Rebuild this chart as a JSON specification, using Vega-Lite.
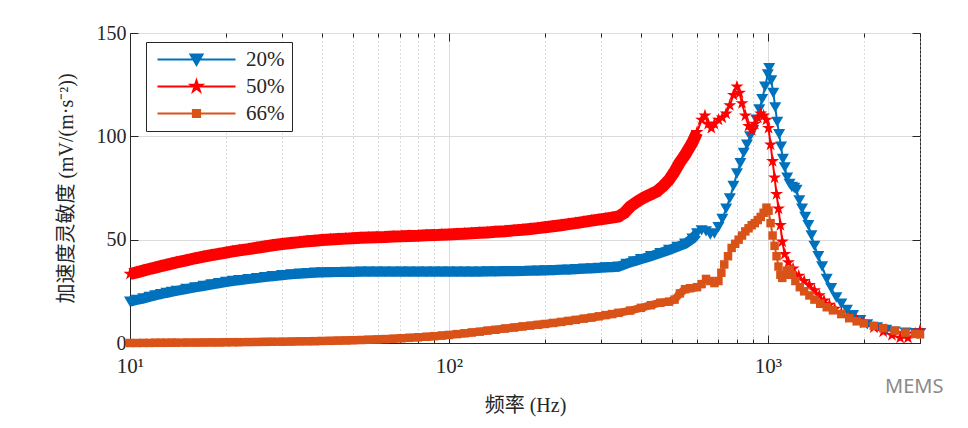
{
  "$schema": "https://vega.github.io/schema/vega-lite/v6.json",
  "width": 790,
  "height": 310,
  "autosize": "none",
  "padding": {"left": 130, "top": 33, "right": 48, "bottom": 85},
  "background": "white",
  "title": {
    "text": "MEMS",
    "orient": "bottom",
    "anchor": "end",
    "font": "Noto Sans",
    "fontSize": 20,
    "fontWeight": "normal",
    "color": "#8a8a8a",
    "offset": -38,
    "dx": 17
  },
  "data": {
    "values": [
      {"s":"20%","f":10,"v":20},{"s":"20%","f":10.5,"v":20.8},{"s":"20%","f":11,"v":21.5},{"s":"20%","f":11.5,"v":22.3},{"s":"20%","f":12,"v":23},
      {"s":"20%","f":12.5,"v":23.6},{"s":"20%","f":13,"v":24.2},{"s":"20%","f":13.5,"v":24.7},{"s":"20%","f":14,"v":25.2},{"s":"20%","f":15,"v":26.1},
      {"s":"20%","f":16,"v":26.9},{"s":"20%","f":17,"v":27.6},{"s":"20%","f":18,"v":28.3},{"s":"20%","f":19,"v":28.9},{"s":"20%","f":20,"v":29.5},
      {"s":"20%","f":21,"v":30},{"s":"20%","f":22,"v":30.4},{"s":"20%","f":23.5,"v":30.9},{"s":"20%","f":25,"v":31.4},{"s":"20%","f":26.5,"v":31.9},
      {"s":"20%","f":28,"v":32.3},{"s":"20%","f":30,"v":32.8},{"s":"20%","f":32,"v":33.2},{"s":"20%","f":34,"v":33.5},{"s":"20%","f":36,"v":33.8},
      {"s":"20%","f":38,"v":34},{"s":"20%","f":40,"v":34.1},{"s":"20%","f":42.5,"v":34.2},{"s":"20%","f":45,"v":34.3},{"s":"20%","f":47.5,"v":34.4},
      {"s":"20%","f":50,"v":34.4},{"s":"20%","f":53,"v":34.5},{"s":"20%","f":56,"v":34.5},{"s":"20%","f":59.5,"v":34.5},{"s":"20%","f":63,"v":34.5},
      {"s":"20%","f":67,"v":34.5},{"s":"20%","f":71,"v":34.5},{"s":"20%","f":75,"v":34.5},{"s":"20%","f":80,"v":34.5},{"s":"20%","f":85,"v":34.5},
      {"s":"20%","f":90,"v":34.5},{"s":"20%","f":95,"v":34.5},{"s":"20%","f":100,"v":34.5},{"s":"20%","f":106,"v":34.5},{"s":"20%","f":112,"v":34.5},
      {"s":"20%","f":118,"v":34.5},{"s":"20%","f":125,"v":34.5},{"s":"20%","f":132,"v":34.6},{"s":"20%","f":140,"v":34.6},{"s":"20%","f":150,"v":34.7},
      {"s":"20%","f":160,"v":34.7},{"s":"20%","f":170,"v":34.8},{"s":"20%","f":180,"v":34.9},{"s":"20%","f":190,"v":35},{"s":"20%","f":200,"v":35.1},
      {"s":"20%","f":212,"v":35.2},{"s":"20%","f":225,"v":35.4},{"s":"20%","f":237,"v":35.5},{"s":"20%","f":250,"v":35.7},{"s":"20%","f":265,"v":35.9},
      {"s":"20%","f":280,"v":36.1},{"s":"20%","f":295,"v":36.3},{"s":"20%","f":310,"v":36.5},{"s":"20%","f":325,"v":36.7},{"s":"20%","f":340,"v":36.9},
      {"s":"20%","f":360,"v":38.3},{"s":"20%","f":380,"v":39.5},{"s":"20%","f":400,"v":40.5},{"s":"20%","f":430,"v":42},{"s":"20%","f":460,"v":43.5},
      {"s":"20%","f":490,"v":45},{"s":"20%","f":520,"v":46.5},{"s":"20%","f":550,"v":48},{"s":"20%","f":580,"v":50.5},{"s":"20%","f":600,"v":53},
      {"s":"20%","f":620,"v":54.5},{"s":"20%","f":640,"v":54},{"s":"20%","f":660,"v":52.5},{"s":"20%","f":680,"v":53},{"s":"20%","f":700,"v":56},
      {"s":"20%","f":720,"v":60},{"s":"20%","f":740,"v":65},{"s":"20%","f":760,"v":70},{"s":"20%","f":780,"v":76},{"s":"20%","f":800,"v":82},
      {"s":"20%","f":820,"v":87},{"s":"20%","f":840,"v":92},{"s":"20%","f":860,"v":96},{"s":"20%","f":880,"v":100},{"s":"20%","f":900,"v":103},
      {"s":"20%","f":920,"v":108},{"s":"20%","f":940,"v":113},{"s":"20%","f":960,"v":118},{"s":"20%","f":980,"v":124},{"s":"20%","f":1000,"v":130},
      {"s":"20%","f":1010,"v":133},{"s":"20%","f":1025,"v":127},{"s":"20%","f":1040,"v":121},{"s":"20%","f":1055,"v":114},{"s":"20%","f":1070,"v":107},
      {"s":"20%","f":1085,"v":101},{"s":"20%","f":1100,"v":95},{"s":"20%","f":1115,"v":89},{"s":"20%","f":1130,"v":85},{"s":"20%","f":1150,"v":80},
      {"s":"20%","f":1170,"v":77},{"s":"20%","f":1190,"v":75.5},{"s":"20%","f":1210,"v":75},{"s":"20%","f":1230,"v":74},{"s":"20%","f":1255,"v":69},
      {"s":"20%","f":1280,"v":65},{"s":"20%","f":1310,"v":61},{"s":"20%","f":1340,"v":57},{"s":"20%","f":1370,"v":52},{"s":"20%","f":1400,"v":47},
      {"s":"20%","f":1440,"v":42},{"s":"20%","f":1480,"v":37},{"s":"20%","f":1530,"v":31},{"s":"20%","f":1580,"v":26.5},{"s":"20%","f":1640,"v":22},
      {"s":"20%","f":1700,"v":19},{"s":"20%","f":1770,"v":16},{"s":"20%","f":1850,"v":13.5},{"s":"20%","f":1950,"v":11},{"s":"20%","f":2050,"v":9},
      {"s":"20%","f":2200,"v":7.5},{"s":"20%","f":2350,"v":6.3},{"s":"20%","f":2500,"v":5.5},{"s":"20%","f":2700,"v":5},{"s":"20%","f":2900,"v":4.8},
      {"s":"20%","f":3000,"v":4.8},

      {"s":"50%","f":10,"v":33.4},{"s":"50%","f":10.5,"v":34.2},{"s":"50%","f":11,"v":35},{"s":"50%","f":11.5,"v":35.8},{"s":"50%","f":12,"v":36.5},
      {"s":"50%","f":12.5,"v":37.2},{"s":"50%","f":13,"v":37.8},{"s":"50%","f":13.5,"v":38.4},{"s":"50%","f":14,"v":39},{"s":"50%","f":15,"v":40},
      {"s":"50%","f":16,"v":41},{"s":"50%","f":17,"v":41.8},{"s":"50%","f":18,"v":42.5},{"s":"50%","f":19,"v":43.1},{"s":"50%","f":20,"v":43.7},
      {"s":"50%","f":21,"v":44.3},{"s":"50%","f":22,"v":44.8},{"s":"50%","f":23.5,"v":45.4},{"s":"50%","f":25,"v":46.1},{"s":"50%","f":26.5,"v":46.7},
      {"s":"50%","f":28,"v":47.3},{"s":"50%","f":30,"v":47.9},{"s":"50%","f":32,"v":48.4},{"s":"50%","f":34,"v":48.8},{"s":"50%","f":36,"v":49.2},
      {"s":"50%","f":38,"v":49.5},{"s":"50%","f":40,"v":49.8},{"s":"50%","f":42.5,"v":50.1},{"s":"50%","f":45,"v":50.3},{"s":"50%","f":47.5,"v":50.5},
      {"s":"50%","f":50,"v":50.7},{"s":"50%","f":53,"v":50.9},{"s":"50%","f":56,"v":51},{"s":"50%","f":59.5,"v":51.2},{"s":"50%","f":63,"v":51.3},
      {"s":"50%","f":67,"v":51.5},{"s":"50%","f":71,"v":51.6},{"s":"50%","f":75,"v":51.8},{"s":"50%","f":80,"v":51.9},{"s":"50%","f":85,"v":52.1},
      {"s":"50%","f":90,"v":52.2},{"s":"50%","f":95,"v":52.4},{"s":"50%","f":100,"v":52.5},{"s":"50%","f":106,"v":52.7},{"s":"50%","f":112,"v":52.9},
      {"s":"50%","f":118,"v":53.1},{"s":"50%","f":125,"v":53.3},{"s":"50%","f":132,"v":53.5},{"s":"50%","f":140,"v":53.8},{"s":"50%","f":150,"v":54.1},
      {"s":"50%","f":160,"v":54.5},{"s":"50%","f":170,"v":54.8},{"s":"50%","f":180,"v":55.2},{"s":"50%","f":190,"v":55.6},{"s":"50%","f":200,"v":56},
      {"s":"50%","f":212,"v":56.5},{"s":"50%","f":225,"v":57},{"s":"50%","f":237,"v":57.5},{"s":"50%","f":250,"v":58},{"s":"50%","f":265,"v":58.6},
      {"s":"50%","f":280,"v":59.2},{"s":"50%","f":295,"v":59.7},{"s":"50%","f":310,"v":60.2},{"s":"50%","f":325,"v":60.7},{"s":"50%","f":340,"v":61.2},
      {"s":"50%","f":355,"v":63},{"s":"50%","f":370,"v":66},{"s":"50%","f":390,"v":68.5},{"s":"50%","f":410,"v":70.5},{"s":"50%","f":430,"v":72},
      {"s":"50%","f":450,"v":73.5},{"s":"50%","f":470,"v":76},{"s":"50%","f":490,"v":79},{"s":"50%","f":510,"v":83},{"s":"50%","f":530,"v":87.5},
      {"s":"50%","f":550,"v":91},{"s":"50%","f":580,"v":97},{"s":"50%","f":600,"v":102},{"s":"50%","f":620,"v":108},{"s":"50%","f":635,"v":110},
      {"s":"50%","f":650,"v":106},{"s":"50%","f":665,"v":104},{"s":"50%","f":680,"v":106},{"s":"50%","f":700,"v":108},{"s":"50%","f":720,"v":109},
      {"s":"50%","f":740,"v":111},{"s":"50%","f":760,"v":115},{"s":"50%","f":780,"v":120},{"s":"50%","f":800,"v":124},{"s":"50%","f":815,"v":121},
      {"s":"50%","f":830,"v":116},{"s":"50%","f":850,"v":110},{"s":"50%","f":870,"v":105},{"s":"50%","f":890,"v":103},{"s":"50%","f":910,"v":106},
      {"s":"50%","f":930,"v":109},{"s":"50%","f":950,"v":111},{"s":"50%","f":970,"v":110},{"s":"50%","f":990,"v":108},{"s":"50%","f":1005,"v":104},
      {"s":"50%","f":1020,"v":96},{"s":"50%","f":1035,"v":88},{"s":"50%","f":1050,"v":80},{"s":"50%","f":1065,"v":72},{"s":"50%","f":1080,"v":65},
      {"s":"50%","f":1095,"v":57},{"s":"50%","f":1110,"v":49},{"s":"50%","f":1130,"v":43},{"s":"50%","f":1160,"v":39},{"s":"50%","f":1200,"v":36},
      {"s":"50%","f":1250,"v":32.5},{"s":"50%","f":1300,"v":30},{"s":"50%","f":1350,"v":28},{"s":"50%","f":1400,"v":25.5},{"s":"50%","f":1450,"v":23},
      {"s":"50%","f":1500,"v":20.5},{"s":"50%","f":1560,"v":18.5},{"s":"50%","f":1620,"v":16.5},{"s":"50%","f":1700,"v":14.5},{"s":"50%","f":1800,"v":12.5},
      {"s":"50%","f":1900,"v":11},{"s":"50%","f":2000,"v":9.8},{"s":"50%","f":2150,"v":7.5},{"s":"50%","f":2300,"v":5.5},{"s":"50%","f":2450,"v":3.8},
      {"s":"50%","f":2600,"v":2.5},{"s":"50%","f":2750,"v":2.5},{"s":"50%","f":2900,"v":4.5},{"s":"50%","f":3000,"v":6},

      {"s":"66%","f":10,"v":0},{"s":"66%","f":10.5,"v":0},{"s":"66%","f":11,"v":0.05},{"s":"66%","f":11.5,"v":0.05},{"s":"66%","f":12,"v":0.1},
      {"s":"66%","f":12.5,"v":0.1},{"s":"66%","f":13,"v":0.1},{"s":"66%","f":13.5,"v":0.15},{"s":"66%","f":14,"v":0.15},{"s":"66%","f":15,"v":0.2},
      {"s":"66%","f":16,"v":0.2},{"s":"66%","f":17,"v":0.25},{"s":"66%","f":18,"v":0.3},{"s":"66%","f":19,"v":0.3},{"s":"66%","f":20,"v":0.35},
      {"s":"66%","f":21,"v":0.4},{"s":"66%","f":22,"v":0.4},{"s":"66%","f":23.5,"v":0.45},{"s":"66%","f":25,"v":0.5},{"s":"66%","f":26.5,"v":0.55},
      {"s":"66%","f":28,"v":0.6},{"s":"66%","f":30,"v":0.65},{"s":"66%","f":32,"v":0.7},{"s":"66%","f":34,"v":0.8},{"s":"66%","f":36,"v":0.85},
      {"s":"66%","f":38,"v":0.9},{"s":"66%","f":40,"v":1},{"s":"66%","f":42.5,"v":1.05},{"s":"66%","f":45,"v":1.15},{"s":"66%","f":47.5,"v":1.25},
      {"s":"66%","f":50,"v":1.35},{"s":"66%","f":53,"v":1.45},{"s":"66%","f":56,"v":1.6},{"s":"66%","f":59.5,"v":1.75},{"s":"66%","f":63,"v":1.9},
      {"s":"66%","f":67,"v":2.1},{"s":"66%","f":71,"v":2.3},{"s":"66%","f":75,"v":2.5},{"s":"66%","f":80,"v":2.75},{"s":"66%","f":85,"v":3},
      {"s":"66%","f":90,"v":3.3},{"s":"66%","f":95,"v":3.6},{"s":"66%","f":100,"v":3.9},{"s":"66%","f":106,"v":4.3},{"s":"66%","f":112,"v":4.7},
      {"s":"66%","f":118,"v":5.1},{"s":"66%","f":125,"v":5.5},{"s":"66%","f":132,"v":6},{"s":"66%","f":140,"v":6.4},{"s":"66%","f":150,"v":7},
      {"s":"66%","f":160,"v":7.5},{"s":"66%","f":170,"v":8},{"s":"66%","f":180,"v":8.4},{"s":"66%","f":190,"v":8.8},{"s":"66%","f":200,"v":9.2},
      {"s":"66%","f":212,"v":9.7},{"s":"66%","f":225,"v":10.2},{"s":"66%","f":237,"v":10.7},{"s":"66%","f":250,"v":11.2},{"s":"66%","f":265,"v":11.8},
      {"s":"66%","f":280,"v":12.3},{"s":"66%","f":295,"v":12.9},{"s":"66%","f":310,"v":13.5},{"s":"66%","f":325,"v":14},{"s":"66%","f":340,"v":14.6},
      {"s":"66%","f":370,"v":15.7},{"s":"66%","f":400,"v":17},{"s":"66%","f":430,"v":18.3},{"s":"66%","f":460,"v":19.5},{"s":"66%","f":490,"v":20},
      {"s":"66%","f":510,"v":21},{"s":"66%","f":530,"v":24},{"s":"66%","f":550,"v":26},{"s":"66%","f":570,"v":26.5},{"s":"66%","f":600,"v":27},
      {"s":"66%","f":620,"v":28.5},{"s":"66%","f":640,"v":31},{"s":"66%","f":660,"v":30},{"s":"66%","f":680,"v":29},{"s":"66%","f":700,"v":30},
      {"s":"66%","f":715,"v":34},{"s":"66%","f":730,"v":38},{"s":"66%","f":750,"v":42},{"s":"66%","f":770,"v":46},{"s":"66%","f":790,"v":48},
      {"s":"66%","f":810,"v":50},{"s":"66%","f":830,"v":52},{"s":"66%","f":850,"v":54},{"s":"66%","f":870,"v":55.5},{"s":"66%","f":890,"v":57},
      {"s":"66%","f":910,"v":58},{"s":"66%","f":930,"v":59.5},{"s":"66%","f":950,"v":61},{"s":"66%","f":970,"v":63},{"s":"66%","f":990,"v":65.5},
      {"s":"66%","f":1005,"v":64},{"s":"66%","f":1020,"v":58},{"s":"66%","f":1035,"v":52},{"s":"66%","f":1050,"v":47},{"s":"66%","f":1065,"v":42},
      {"s":"66%","f":1080,"v":37},{"s":"66%","f":1095,"v":33},{"s":"66%","f":1110,"v":31.5},{"s":"66%","f":1130,"v":33},{"s":"66%","f":1150,"v":35},
      {"s":"66%","f":1170,"v":35.5},{"s":"66%","f":1190,"v":33},{"s":"66%","f":1220,"v":30},{"s":"66%","f":1260,"v":27},{"s":"66%","f":1300,"v":25},
      {"s":"66%","f":1350,"v":23},{"s":"66%","f":1400,"v":21},{"s":"66%","f":1460,"v":19},{"s":"66%","f":1530,"v":17.3},{"s":"66%","f":1600,"v":15.8},
      {"s":"66%","f":1700,"v":14},{"s":"66%","f":1800,"v":12},{"s":"66%","f":1900,"v":10.5},{"s":"66%","f":2000,"v":9.5},{"s":"66%","f":2150,"v":8.3},
      {"s":"66%","f":2300,"v":7.2},{"s":"66%","f":2500,"v":6},{"s":"66%","f":2700,"v":5},{"s":"66%","f":2900,"v":4.4},{"s":"66%","f":3000,"v":4.2}
    ]
  },
  "layer": [
    {
      "encoding": {
        "x": {
          "field": "f",
          "type": "quantitative",
          "scale": {"type": "log", "domain": [10, 3000], "nice": false},
          "axis": {
            "orient": "bottom",
            "title": "频率 (Hz)",
            "titlePadding": 15,
            "values": [10,20,30,40,50,60,70,80,90,100,200,300,400,500,600,700,800,900,1000,2000,3000],
            "labelExpr": "datum.value == 10 ? '10¹' : datum.value == 100 ? '10²' : datum.value == 1000 ? '10³' : ''",
            "labelFlush": false,
            "labelOverlap": false,
            "labelPadding": 20,
            "grid": true,
            "gridDash": {"condition": {"test": "datum.value == 10 || datum.value == 100 || datum.value == 1000", "value": []}, "value": [1, 3]},
            "gridColor": {"condition": {"test": "datum.value == 10 || datum.value == 100 || datum.value == 1000", "value": "#dcdcdc"}, "value": "#b8b8b8"},
            "tickSize": {"condition": {"test": "datum.value == 10 || datum.value == 100 || datum.value == 1000", "value": -8}, "value": -4}
          }
        },
        "y": {
          "field": "v",
          "type": "quantitative",
          "scale": {"domain": [0, 150], "nice": false},
          "axis": {
            "orient": "left",
            "title": "加速度灵敏度 (mV/(m·s⁻²))",
            "titlePadding": 20,
            "values": [0, 50, 100, 150],
            "labelPadding": 12,
            "labelFontSize": 20,
            "grid": true,
            "gridColor": "#dcdcdc",
            "tickSize": {"condition": {"test": "true", "value": -8}, "value": -8}
          }
        },
        "color": {
          "field": "s",
          "type": "nominal",
          "scale": {"domain": ["20%", "50%", "66%"], "range": ["#0072BD", "#FF0000", "#D95319"]},
          "legend": {
            "title": null,
            "orient": "none",
            "legendX": 16,
            "legendY": 9,
            "strokeColor": "#262626",
            "fillColor": "white",
            "padding": 7,
            "rowPadding": 5,
            "labelFont": "Liberation Serif",
            "labelFontSize": 21,
            "labelColor": "#262626",
            "symbolSize": 144,
            "symbolOffset": 33,
            "labelOffset": 39,
            "symbolStrokeWidth": 2,
            "encode": {
              "symbols": {
                "update": {
                  "shape": {"signal": "datum.value == '20%' ? 'M-6.5,0H6.5M-1,-0.85L1,-0.85L0,0.9Z' : datum.value == '50%' ? 'M-6.5,0H6.5M0,-1L0.2245,-0.309L0.9511,-0.309L0.3633,0.118L0.5878,0.809L0,0.382L-0.5878,0.809L-0.3633,0.118L-0.9511,-0.309L-0.2245,-0.309Z' : 'M-6.5,0H6.5M-0.6,-0.6H0.6V0.6H-0.6Z'"},
                  "fill": {"signal": "datum.value == '20%' ? '#0072BD' : datum.value == '50%' ? '#FF0000' : '#D95319'"},
                  "stroke": {"signal": "datum.value == '20%' ? '#0072BD' : datum.value == '50%' ? '#FF0000' : '#D95319'"},
                  "strokeWidth": {"value": 2},
                  "opacity": {"value": 1}
                }
              }
            }
          }
        }
      },
      "layer": [
        {
          "transform": [{"filter": "datum.s == '20%' && datum.f <= 600"}],
          "mark": {"type": "line", "strokeCap": "butt", "strokeWidth": 10}
        },
        {
          "transform": [{"filter": "datum.s == '50%' && datum.f <= 600"}],
          "mark": {"type": "line", "strokeCap": "butt", "strokeWidth": 12}
        },
        {
          "transform": [{"filter": "datum.s == '66%' && datum.f <= 600"}],
          "mark": {"type": "line", "strokeCap": "butt", "strokeWidth": 8}
        },
        {
          "mark": {"type": "line", "strokeWidth": 2}
        },
        {
          "transform": [{"filter": "datum.s == '20%'"}],
          "mark": {"type": "point", "filled": true, "opacity": 1, "shape": "triangle-down", "size": 144}
        },
        {
          "transform": [{"filter": "datum.s == '50%'"}],
          "mark": {"type": "point", "filled": true, "opacity": 1, "size": 187, "shape": "M0,-1L0.2245,-0.309L0.9511,-0.309L0.3633,0.118L0.5878,0.809L0,0.382L-0.5878,0.809L-0.3633,0.118L-0.9511,-0.309L-0.2245,-0.309Z"}
        },
        {
          "transform": [{"filter": "datum.s == '66%'"}],
          "mark": {"type": "point", "filled": true, "opacity": 1, "shape": "square", "size": 72}
        }
      ]
    },
    {
      "mark": {"type": "point", "opacity": 0},
      "encoding": {
        "x": {
          "field": "f",
          "type": "quantitative",
          "scale": {"type": "log", "domain": [10, 3000], "nice": false},
          "axis": {
            "orient": "top",
            "title": null,
            "labels": false,
            "domain": false,
            "grid": false,
            "values": [10,20,30,40,50,60,70,80,90,100,200,300,400,500,600,700,800,900,1000,2000,3000],
            "tickSize": {"condition": {"test": "datum.value == 10 || datum.value == 100 || datum.value == 1000", "value": -8}, "value": -4}
          }
        },
        "y": {
          "field": "v",
          "type": "quantitative",
          "scale": {"domain": [0, 150], "nice": false},
          "axis": {
            "orient": "right",
            "title": null,
            "labels": false,
            "domain": false,
            "grid": false,
            "values": [0, 50, 100, 150],
            "tickSize": {"condition": {"test": "true", "value": -8}, "value": -8}
          }
        }
      }
    }
  ],
  "config": {
    "view": {"stroke": "#262626", "strokeWidth": 1},
    "axis": {
      "labelFont": "Liberation Serif",
      "labelFontSize": 21,
      "labelColor": "#262626",
      "titleFont": "Liberation Serif, Noto Sans CJK SC",
      "titleFontSize": 20,
      "titleFontWeight": "normal",
      "titleColor": "#262626",
      "domainColor": "#262626",
      "tickColor": "#262626"
    }
  }
}
